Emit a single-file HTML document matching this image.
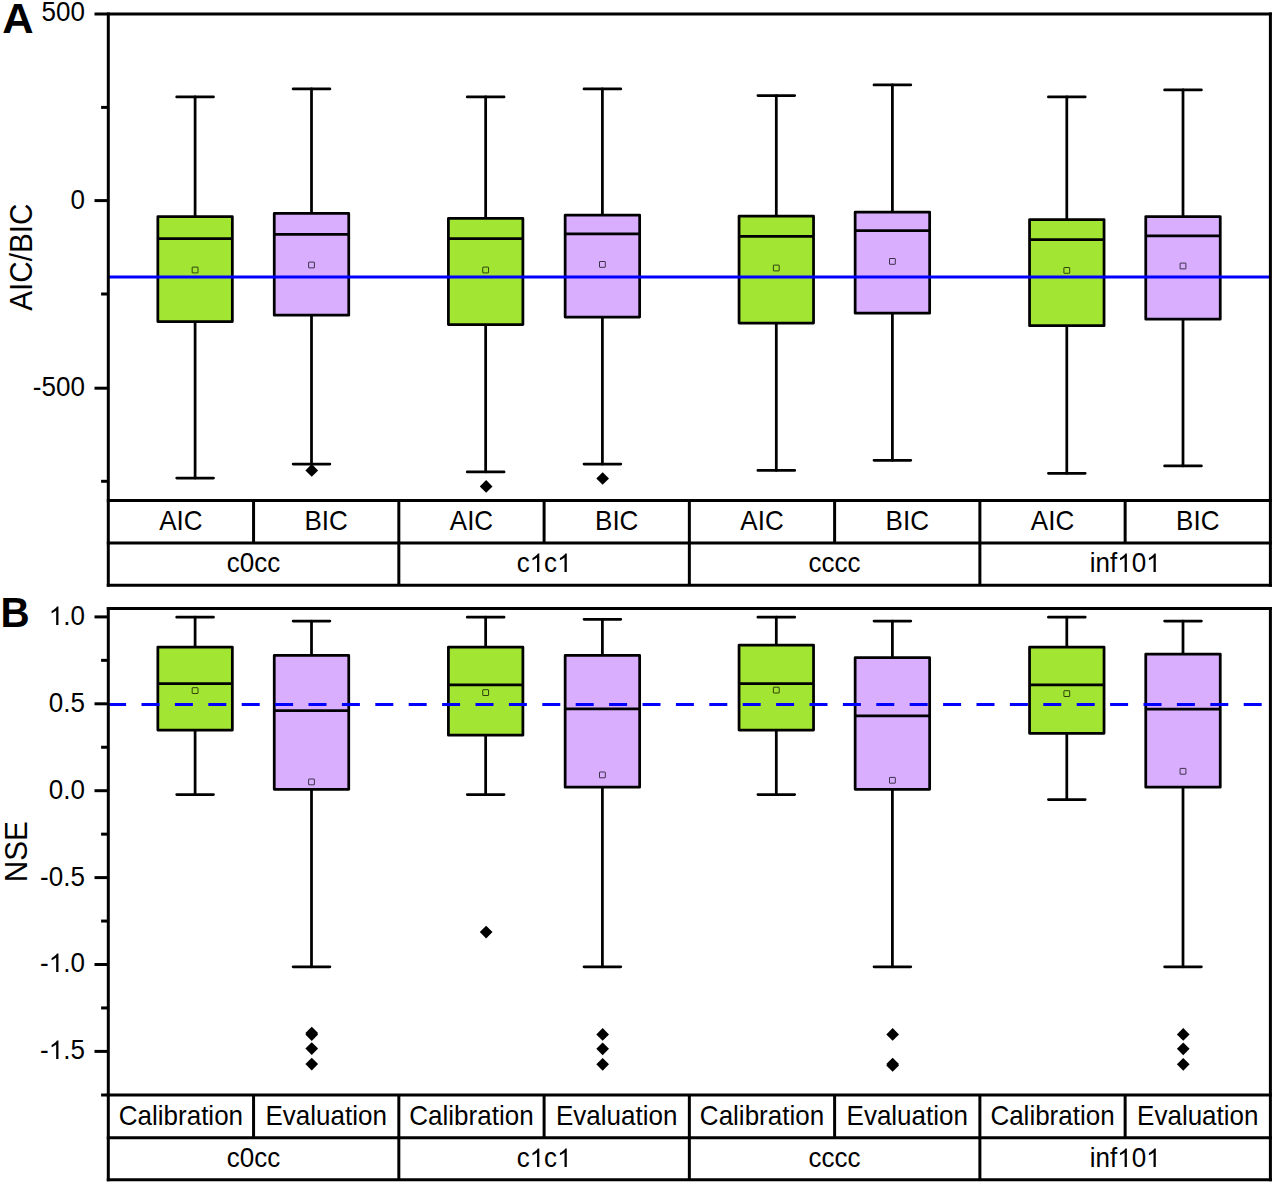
<!DOCTYPE html>
<html lang="en">
<head>
<meta charset="utf-8">
<title>Box plots of AIC/BIC and NSE</title>
<style>
html,body{margin:0;padding:0;background:#fff;}
body{width:1276px;height:1184px;overflow:hidden;font-family:"Liberation Sans",sans-serif;}
svg{display:block;font-family:"Liberation Sans",sans-serif;}
</style>
</head>
<body>
<svg width="1276" height="1184" viewBox="0 0 1276 1184">
<rect width="1276" height="1184" fill="#fff"/>
<!-- Panel A: AIC/BIC -->
<g stroke="#000" stroke-width="2.75" stroke-linecap="round" fill="none">
<path d="M195.1 96.9V216.7M195.1 321.5V478.1"/>
<path d="M176.7 96.9H213.5M176.7 478.1H213.5"/>
</g>
<rect x="157.85" y="216.7" width="74.5" height="104.8" fill="#A2E633" stroke="#000" stroke-width="2.75" stroke-linejoin="round"/>
<path d="M157.85 238.5H232.35" stroke="#000" stroke-width="2.75"/>
<rect x="192.2" y="267.1" width="5.8" height="5.8" rx="0.4" fill="none" stroke="#000" stroke-width="0.72"/>
<g stroke="#000" stroke-width="2.75" stroke-linecap="round" fill="none">
<path d="M311.5 88.9V213.4M311.5 315.2V464"/>
<path d="M293.1 88.9H329.9M293.1 464H329.9"/>
</g>
<rect x="274.25" y="213.4" width="74.5" height="101.8" fill="#D9AEFF" stroke="#000" stroke-width="2.75" stroke-linejoin="round"/>
<path d="M274.25 234.4H348.75" stroke="#000" stroke-width="2.75"/>
<rect x="308.6" y="262.1" width="5.8" height="5.8" rx="0.4" fill="none" stroke="#000" stroke-width="0.72"/>
<path d="M311.75 464.05L318.1 470.4L311.75 476.75L305.4 470.4Z" fill="#000"/>
<g stroke="#000" stroke-width="2.75" stroke-linecap="round" fill="none">
<path d="M485.65 96.9V218.4M485.65 324.5V471.9"/>
<path d="M467.25 96.9H504.05M467.25 471.9H504.05"/>
</g>
<rect x="448.4" y="218.4" width="74.5" height="106.1" fill="#A2E633" stroke="#000" stroke-width="2.75" stroke-linejoin="round"/>
<path d="M448.4 238.5H522.9" stroke="#000" stroke-width="2.75"/>
<rect x="482.75" y="267.1" width="5.8" height="5.8" rx="0.4" fill="none" stroke="#000" stroke-width="0.72"/>
<path d="M486.15 480.05L492.5 486.4L486.15 492.75L479.8 486.4Z" fill="#000"/>
<g stroke="#000" stroke-width="2.75" stroke-linecap="round" fill="none">
<path d="M602.4 88.9V215.1M602.4 317.1V464"/>
<path d="M584 88.9H620.8M584 464H620.8"/>
</g>
<rect x="565.15" y="215.1" width="74.5" height="102" fill="#D9AEFF" stroke="#000" stroke-width="2.75" stroke-linejoin="round"/>
<path d="M565.15 233.9H639.65" stroke="#000" stroke-width="2.75"/>
<rect x="599.5" y="261.5" width="5.8" height="5.8" rx="0.4" fill="none" stroke="#000" stroke-width="0.72"/>
<path d="M602.65 472.15L609 478.5L602.65 484.85L596.3 478.5Z" fill="#000"/>
<g stroke="#000" stroke-width="2.75" stroke-linecap="round" fill="none">
<path d="M776.3 95.5V216M776.3 323V470.4"/>
<path d="M757.9 95.5H794.7M757.9 470.4H794.7"/>
</g>
<rect x="739.05" y="216" width="74.5" height="107" fill="#A2E633" stroke="#000" stroke-width="2.75" stroke-linejoin="round"/>
<path d="M739.05 236.4H813.55" stroke="#000" stroke-width="2.75"/>
<rect x="773.4" y="265.1" width="5.8" height="5.8" rx="0.4" fill="none" stroke="#000" stroke-width="0.72"/>
<g stroke="#000" stroke-width="2.75" stroke-linecap="round" fill="none">
<path d="M892.4 84.9V212.1M892.4 313.2V460.3"/>
<path d="M874 84.9H910.8M874 460.3H910.8"/>
</g>
<rect x="855.15" y="212.1" width="74.5" height="101.1" fill="#D9AEFF" stroke="#000" stroke-width="2.75" stroke-linejoin="round"/>
<path d="M855.15 230.7H929.65" stroke="#000" stroke-width="2.75"/>
<rect x="889.5" y="258.5" width="5.8" height="5.8" rx="0.4" fill="none" stroke="#000" stroke-width="0.72"/>
<g stroke="#000" stroke-width="2.75" stroke-linecap="round" fill="none">
<path d="M1066.8 96.9V219.5M1066.8 325.7V473.3"/>
<path d="M1048.4 96.9H1085.2M1048.4 473.3H1085.2"/>
</g>
<rect x="1029.55" y="219.5" width="74.5" height="106.2" fill="#A2E633" stroke="#000" stroke-width="2.75" stroke-linejoin="round"/>
<path d="M1029.55 239.5H1104.05" stroke="#000" stroke-width="2.75"/>
<rect x="1063.9" y="267.5" width="5.8" height="5.8" rx="0.4" fill="none" stroke="#000" stroke-width="0.72"/>
<g stroke="#000" stroke-width="2.75" stroke-linecap="round" fill="none">
<path d="M1183 89.9V216.6M1183 319.2V465.9"/>
<path d="M1164.6 89.9H1201.4M1164.6 465.9H1201.4"/>
</g>
<rect x="1145.75" y="216.6" width="74.5" height="102.6" fill="#D9AEFF" stroke="#000" stroke-width="2.75" stroke-linejoin="round"/>
<path d="M1145.75 235.8H1220.25" stroke="#000" stroke-width="2.75"/>
<rect x="1180.1" y="263.1" width="5.8" height="5.8" rx="0.4" fill="none" stroke="#000" stroke-width="0.72"/>
<path d="M108.3 276.9H1270.4" stroke="#0000FF" stroke-width="3"/>
<g stroke="#000" stroke-width="3" fill="none" stroke-linecap="butt">
<path d="M94.5 13.9H1271.9"/>
<path d="M108.3 12.4V586.7"/>
<path d="M1270.4 12.4V586.7"/>
<path d="M106.8 500.5H1271.9"/>
<path d="M106.8 543H1271.9"/>
<path d="M106.8 585.2H1271.9"/>
<path d="M253.56 500.5V543"/>
<path d="M398.83 500.5V585.2"/>
<path d="M544.09 500.5V543"/>
<path d="M689.35 500.5V585.2"/>
<path d="M834.61 500.5V543"/>
<path d="M979.88 500.5V585.2"/>
<path d="M1125.14 500.5V543"/>
<path d="M94.5 200.6H108.3"/>
<path d="M94.5 388.2H108.3"/>
<path d="M101.1 107.4H108.3"/>
<path d="M101.1 294H108.3"/>
<path d="M101.1 481.3H108.3"/>
</g>
<g font-size="26" fill="#000">
<text transform="translate(84.9 21) scale(1 1.04)" text-anchor="end">500</text>
<text transform="translate(84.9 209) scale(1 1.04)" text-anchor="end">0</text>
<text transform="translate(84.9 396) scale(1 1.04)" text-anchor="end">-500</text>
<text transform="translate(180.93 530) scale(1 1.04)" text-anchor="middle">AIC</text>
<text transform="translate(326.19 530) scale(1 1.04)" text-anchor="middle">BIC</text>
<text transform="translate(471.46 530) scale(1 1.04)" text-anchor="middle">AIC</text>
<text transform="translate(616.72 530) scale(1 1.04)" text-anchor="middle">BIC</text>
<text transform="translate(761.98 530) scale(1 1.04)" text-anchor="middle">AIC</text>
<text transform="translate(907.24 530) scale(1 1.04)" text-anchor="middle">BIC</text>
<text transform="translate(1052.51 530) scale(1 1.04)" text-anchor="middle">AIC</text>
<text transform="translate(1197.77 530) scale(1 1.04)" text-anchor="middle">BIC</text>
<text transform="translate(253.56 572) scale(1 1.04)" text-anchor="middle">c0cc</text>
<g transform="translate(516.63 572)">
<text x="0" transform="scale(1 1.04)">c</text>
<path d="M763 0H583V1147Q518 1085 412.5 1023T223 930V1104Q373 1174.5 485 1275T644 1466H763Z" transform="translate(13 0) scale(0.01270 -0.01270)"/>
<text x="27.46" transform="scale(1 1.04)">c</text>
<path d="M763 0H583V1147Q518 1085 412.5 1023T223 930V1104Q373 1174.5 485 1275T644 1466H763Z" transform="translate(40.46 0) scale(0.01270 -0.01270)"/>
</g>
<text transform="translate(834.61 572) scale(1 1.04)" text-anchor="middle">cccc</text>
<g transform="translate(1089.73 572)">
<text x="0" transform="scale(1 1.04)">inf</text>
<path d="M763 0H583V1147Q518 1085 412.5 1023T223 930V1104Q373 1174.5 485 1275T644 1466H763Z" transform="translate(27.46 0) scale(0.01270 -0.01270)"/>
<text x="41.91" transform="scale(1 1.04)">0</text>
<path d="M763 0H583V1147Q518 1085 412.5 1023T223 930V1104Q373 1174.5 485 1275T644 1466H763Z" transform="translate(56.37 0) scale(0.01270 -0.01270)"/>
</g>
</g>
<text transform="translate(31.7 257.2) rotate(-90) scale(1 1.04)" font-size="29.7" text-anchor="middle">AIC/BIC</text>
<text transform="translate(2.2 32.9) scale(1.06 1.035)" font-size="41" font-weight="bold">A</text>
<!-- Panel B: NSE -->
<g stroke="#000" stroke-width="2.75" stroke-linecap="round" fill="none">
<path d="M195.1 617.2V647M195.1 730V794.6"/>
<path d="M176.7 617.2H213.5M176.7 794.6H213.5"/>
</g>
<rect x="157.85" y="647" width="74.5" height="83" fill="#A2E633" stroke="#000" stroke-width="2.75" stroke-linejoin="round"/>
<path d="M157.85 683.6H232.35" stroke="#000" stroke-width="2.75"/>
<rect x="192.2" y="687.7" width="5.8" height="5.8" rx="0.4" fill="none" stroke="#000" stroke-width="0.72"/>
<g stroke="#000" stroke-width="2.75" stroke-linecap="round" fill="none">
<path d="M311.5 621V655.4M311.5 789.3V966.8"/>
<path d="M293.1 621H329.9M293.1 966.8H329.9"/>
</g>
<rect x="274.25" y="655.4" width="74.5" height="133.9" fill="#D9AEFF" stroke="#000" stroke-width="2.75" stroke-linejoin="round"/>
<path d="M274.25 710.7H348.75" stroke="#000" stroke-width="2.75"/>
<rect x="308.6" y="779" width="5.8" height="5.8" rx="0.4" fill="none" stroke="#000" stroke-width="0.72"/>
<path d="M311.75 1026.65L318.1 1033L311.75 1039.35L305.4 1033Z" fill="#000"/>
<path d="M311.75 1028.25L318.1 1034.6L311.75 1040.95L305.4 1034.6Z" fill="#000"/>
<path d="M311.75 1042.25L318.1 1048.6L311.75 1054.95L305.4 1048.6Z" fill="#000"/>
<path d="M311.75 1057.75L318.1 1064.1L311.75 1070.45L305.4 1064.1Z" fill="#000"/>
<g stroke="#000" stroke-width="2.75" stroke-linecap="round" fill="none">
<path d="M485.65 617.2V647M485.65 735.2V794.6"/>
<path d="M467.25 617.2H504.05M467.25 794.6H504.05"/>
</g>
<rect x="448.4" y="647" width="74.5" height="88.2" fill="#A2E633" stroke="#000" stroke-width="2.75" stroke-linejoin="round"/>
<path d="M448.4 684.9H522.9" stroke="#000" stroke-width="2.75"/>
<rect x="482.75" y="689.7" width="5.8" height="5.8" rx="0.4" fill="none" stroke="#000" stroke-width="0.72"/>
<path d="M486.15 925.75L492.5 932.1L486.15 938.45L479.8 932.1Z" fill="#000"/>
<g stroke="#000" stroke-width="2.75" stroke-linecap="round" fill="none">
<path d="M602.4 619.3V655.4M602.4 787.2V966.8"/>
<path d="M584 619.3H620.8M584 966.8H620.8"/>
</g>
<rect x="565.15" y="655.4" width="74.5" height="131.8" fill="#D9AEFF" stroke="#000" stroke-width="2.75" stroke-linejoin="round"/>
<path d="M565.15 708.9H639.65" stroke="#000" stroke-width="2.75"/>
<rect x="599.5" y="772" width="5.8" height="5.8" rx="0.4" fill="none" stroke="#000" stroke-width="0.72"/>
<path d="M602.65 1028.05L609 1034.4L602.65 1040.75L596.3 1034.4Z" fill="#000"/>
<path d="M602.65 1042.45L609 1048.8L602.65 1055.15L596.3 1048.8Z" fill="#000"/>
<path d="M602.65 1057.95L609 1064.3L602.65 1070.65L596.3 1064.3Z" fill="#000"/>
<g stroke="#000" stroke-width="2.75" stroke-linecap="round" fill="none">
<path d="M776.3 617.2V645M776.3 730V794.6"/>
<path d="M757.9 617.2H794.7M757.9 794.6H794.7"/>
</g>
<rect x="739.05" y="645" width="74.5" height="85" fill="#A2E633" stroke="#000" stroke-width="2.75" stroke-linejoin="round"/>
<path d="M739.05 683.6H813.55" stroke="#000" stroke-width="2.75"/>
<rect x="773.4" y="687.2" width="5.8" height="5.8" rx="0.4" fill="none" stroke="#000" stroke-width="0.72"/>
<g stroke="#000" stroke-width="2.75" stroke-linecap="round" fill="none">
<path d="M892.4 621V657.7M892.4 789.3V966.8"/>
<path d="M874 621H910.8M874 966.8H910.8"/>
</g>
<rect x="855.15" y="657.7" width="74.5" height="131.6" fill="#D9AEFF" stroke="#000" stroke-width="2.75" stroke-linejoin="round"/>
<path d="M855.15 715.8H929.65" stroke="#000" stroke-width="2.75"/>
<rect x="889.5" y="777.4" width="5.8" height="5.8" rx="0.4" fill="none" stroke="#000" stroke-width="0.72"/>
<path d="M892.65 1028.05L899 1034.4L892.65 1040.75L886.3 1034.4Z" fill="#000"/>
<path d="M892.65 1057.65L899 1064L892.65 1070.35L886.3 1064Z" fill="#000"/>
<path d="M892.65 1059.15L899 1065.5L892.65 1071.85L886.3 1065.5Z" fill="#000"/>
<g stroke="#000" stroke-width="2.75" stroke-linecap="round" fill="none">
<path d="M1066.8 617.2V647M1066.8 733.3V799.5"/>
<path d="M1048.4 617.2H1085.2M1048.4 799.5H1085.2"/>
</g>
<rect x="1029.55" y="647" width="74.5" height="86.3" fill="#A2E633" stroke="#000" stroke-width="2.75" stroke-linejoin="round"/>
<path d="M1029.55 684.9H1104.05" stroke="#000" stroke-width="2.75"/>
<rect x="1063.9" y="690.7" width="5.8" height="5.8" rx="0.4" fill="none" stroke="#000" stroke-width="0.72"/>
<g stroke="#000" stroke-width="2.75" stroke-linecap="round" fill="none">
<path d="M1183 621V654.05M1183 787.2V966.8"/>
<path d="M1164.6 621H1201.4M1164.6 966.8H1201.4"/>
</g>
<rect x="1145.75" y="654.05" width="74.5" height="133.15" fill="#D9AEFF" stroke="#000" stroke-width="2.75" stroke-linejoin="round"/>
<path d="M1145.75 709H1220.25" stroke="#000" stroke-width="2.75"/>
<rect x="1180.1" y="768.4" width="5.8" height="5.8" rx="0.4" fill="none" stroke="#000" stroke-width="0.72"/>
<path d="M1183.25 1028.05L1189.6 1034.4L1183.25 1040.75L1176.9 1034.4Z" fill="#000"/>
<path d="M1183.25 1042.45L1189.6 1048.8L1183.25 1055.15L1176.9 1048.8Z" fill="#000"/>
<path d="M1183.25 1057.95L1189.6 1064.3L1183.25 1070.65L1176.9 1064.3Z" fill="#000"/>
<path d="M108.1 704.4H1270.4" stroke="#0000FF" stroke-width="3" stroke-dasharray="18 15.4"/>
<g stroke="#000" stroke-width="3" fill="none" stroke-linecap="butt">
<path d="M106.8 608.4H1271.9"/>
<path d="M108.3 606.9V1181.2"/>
<path d="M1270.4 606.9V1181.2"/>
<path d="M106.8 1095H1271.9"/>
<path d="M106.8 1137.7H1271.9"/>
<path d="M106.8 1179.7H1271.9"/>
<path d="M253.56 1095V1137.7"/>
<path d="M398.83 1095V1179.7"/>
<path d="M544.09 1095V1137.7"/>
<path d="M689.35 1095V1179.7"/>
<path d="M834.61 1095V1137.7"/>
<path d="M979.88 1095V1179.7"/>
<path d="M1125.14 1095V1137.7"/>
<path d="M94.5 616.9H108.3"/>
<path d="M94.5 703.8H108.3"/>
<path d="M94.5 790.7H108.3"/>
<path d="M94.5 877.6H108.3"/>
<path d="M94.5 964.5H108.3"/>
<path d="M94.5 1051.4H108.3"/>
<path d="M101.1 660.35H108.3"/>
<path d="M101.1 747.25H108.3"/>
<path d="M101.1 834.15H108.3"/>
<path d="M101.1 921.05H108.3"/>
<path d="M101.1 1007.95H108.3"/>
<path d="M101.1 1095H108.3"/>
</g>
<g font-size="26" fill="#000">
<g transform="translate(48.76 625)">
<path d="M763 0H583V1147Q518 1085 412.5 1023T223 930V1104Q373 1174.5 485 1275T644 1466H763Z" transform="translate(0 0) scale(0.01270 -0.01270)"/>
<text x="14.46" transform="scale(1 1.04)">.0</text>
</g>
<text transform="translate(84.9 712) scale(1 1.04)" text-anchor="end">0.5</text>
<text transform="translate(84.9 799) scale(1 1.04)" text-anchor="end">0.0</text>
<text transform="translate(84.9 886) scale(1 1.04)" text-anchor="end">-0.5</text>
<g transform="translate(40.1 972)">
<text x="0" transform="scale(1 1.04)">-</text>
<path d="M763 0H583V1147Q518 1085 412.5 1023T223 930V1104Q373 1174.5 485 1275T644 1466H763Z" transform="translate(8.66 0) scale(0.01270 -0.01270)"/>
<text x="23.11" transform="scale(1 1.04)">.0</text>
</g>
<g transform="translate(40.1 1059)">
<text x="0" transform="scale(1 1.04)">-</text>
<path d="M763 0H583V1147Q518 1085 412.5 1023T223 930V1104Q373 1174.5 485 1275T644 1466H763Z" transform="translate(8.66 0) scale(0.01270 -0.01270)"/>
<text x="23.11" transform="scale(1 1.04)">.5</text>
</g>
<text transform="translate(180.93 1125) scale(1 1.04)" text-anchor="middle">Calibration</text>
<text transform="translate(326.19 1125) scale(1 1.04)" text-anchor="middle">Evaluation</text>
<text transform="translate(471.46 1125) scale(1 1.04)" text-anchor="middle">Calibration</text>
<text transform="translate(616.72 1125) scale(1 1.04)" text-anchor="middle">Evaluation</text>
<text transform="translate(761.98 1125) scale(1 1.04)" text-anchor="middle">Calibration</text>
<text transform="translate(907.24 1125) scale(1 1.04)" text-anchor="middle">Evaluation</text>
<text transform="translate(1052.51 1125) scale(1 1.04)" text-anchor="middle">Calibration</text>
<text transform="translate(1197.77 1125) scale(1 1.04)" text-anchor="middle">Evaluation</text>
<text transform="translate(253.56 1167) scale(1 1.04)" text-anchor="middle">c0cc</text>
<g transform="translate(516.63 1167)">
<text x="0" transform="scale(1 1.04)">c</text>
<path d="M763 0H583V1147Q518 1085 412.5 1023T223 930V1104Q373 1174.5 485 1275T644 1466H763Z" transform="translate(13 0) scale(0.01270 -0.01270)"/>
<text x="27.46" transform="scale(1 1.04)">c</text>
<path d="M763 0H583V1147Q518 1085 412.5 1023T223 930V1104Q373 1174.5 485 1275T644 1466H763Z" transform="translate(40.46 0) scale(0.01270 -0.01270)"/>
</g>
<text transform="translate(834.61 1167) scale(1 1.04)" text-anchor="middle">cccc</text>
<g transform="translate(1089.73 1167)">
<text x="0" transform="scale(1 1.04)">inf</text>
<path d="M763 0H583V1147Q518 1085 412.5 1023T223 930V1104Q373 1174.5 485 1275T644 1466H763Z" transform="translate(27.46 0) scale(0.01270 -0.01270)"/>
<text x="41.91" transform="scale(1 1.04)">0</text>
<path d="M763 0H583V1147Q518 1085 412.5 1023T223 930V1104Q373 1174.5 485 1275T644 1466H763Z" transform="translate(56.37 0) scale(0.01270 -0.01270)"/>
</g>
</g>
<text transform="translate(26.8 851.7) rotate(-90) scale(1 1.04)" font-size="29.7" text-anchor="middle">NSE</text>
<text transform="translate(0.4 627.4) scale(0.985 1.035)" font-size="41" font-weight="bold">B</text>
</svg>
</body>
</html>
